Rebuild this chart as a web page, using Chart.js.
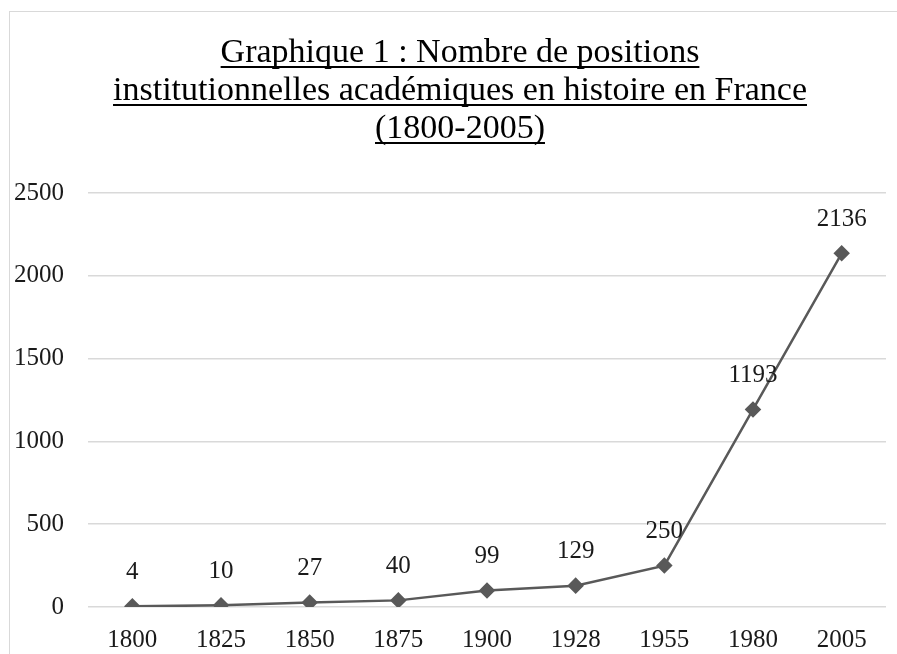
<!DOCTYPE html>
<html>
<head>
<meta charset="utf-8">
<script src="https://cdn.jsdelivr.net/npm/chart.js@4.4.0/dist/chart.umd.min.js"></script>
<style>
  html, body { margin: 0; padding: 0; background: #fff; }
  #wrap { width: 897px; height: 654px; position: relative; }
</style>
</head>
<body>
<div id="wrap"><canvas id="lineChart"></canvas></div>
<script>
// chart data
var years = ['1800', '1825', '1850', '1875', '1900', '1928', '1955', '1980', '2005'];
var positions = [4, 10, 27, 40, 99, 129, 250, 1193, 2136];
var titleLines = [
    'Graphique 1 : Nombre de positions',
    'institutionnelles académiques en histoire en France',
    '(1800-2005)'
];
var yTicks = [0, 500, 1000, 1500, 2000, 2500];

var serif = '"Liberation Serif", "Times New Roman", serif';

// frame + underlined title, drawn before the chart
var titlePlugin = {
    id: 'titlePlugin',
    beforeDraw: function(chart) {
        var ctx = chart.ctx;
        ctx.save();
        ctx.strokeStyle = '#d9d9d9';
        ctx.lineWidth = 1;
        ctx.strokeRect(9.5, 11.5, 1000, 1000);

        ctx.font = '34px ' + serif;
        ctx.fillStyle = '#000';
        ctx.textAlign = 'center';
        ctx.textBaseline = 'alphabetic';
        var cx = 460;
        titleLines.forEach(function(line, i) {
            var y = 62 + i * 38;
            ctx.fillText(line, cx, y);
            var w = ctx.measureText(line).width;
            ctx.fillRect(cx - w / 2, y + 4, w, 2);
        });
        ctx.restore();
    }
};

// values written above the points
var valueLabels = {
    id: 'valueLabels',
    afterDatasetsDraw: function(chart) {
        var ctx = chart.ctx;
        var meta = chart.getDatasetMeta(0);
        ctx.save();
        ctx.font = '25px ' + serif;
        ctx.fillStyle = '#1a1a1a';
        ctx.textAlign = 'center';
        ctx.textBaseline = 'middle';
        meta.data.forEach(function(pt, i) {
            ctx.fillText(String(positions[i]), pt.x, pt.y - 34);
        });
        ctx.restore();
    }
};

new Chart(document.getElementById('lineChart'), {
    type: 'line',
    data: {
        labels: years,
        datasets: [{
            data: positions,
            borderColor: '#595959',
            backgroundColor: '#595959',
            borderWidth: 2.5,
            pointStyle: 'rectRot',
            pointRadius: 6.5,
            pointHoverRadius: 6.5,
            tension: 0
        }]
    },
    options: {
        responsive: true,
        maintainAspectRatio: false,
        animation: false,
        layout: { padding: { top: 193, right: 11, left: 0, bottom: 0 } },
        plugins: {
            legend: { display: false },
            tooltip: { enabled: false }
        },
        scales: {
            x: {
                offset: true,
                grid: { display: false, drawTicks: false },
                border: { display: false },
                ticks: { color: '#1a1a1a', font: { family: serif, size: 25 }, padding: 18, maxRotation: 0 },
                afterFit: function(scale) { scale.height = 47; }
            },
            y: {
                min: 0,
                max: 2500,
                afterBuildTicks: function(scale) {
                    scale.ticks = yTicks.map(function(v) { return { value: v }; });
                },
                grid: { color: '#d9d9d9', lineWidth: 1.5, drawTicks: false },
                border: { display: false },
                ticks: {
                    color: '#1a1a1a',
                    font: { family: serif, size: 25 },
                    padding: 24,
                    callback: function(value) { return String(value); }
                },
                afterFit: function(scale) { scale.width = 88; }
            }
        }
    },
    plugins: [titlePlugin, valueLabels]
});
</script>
</body>
</html>
